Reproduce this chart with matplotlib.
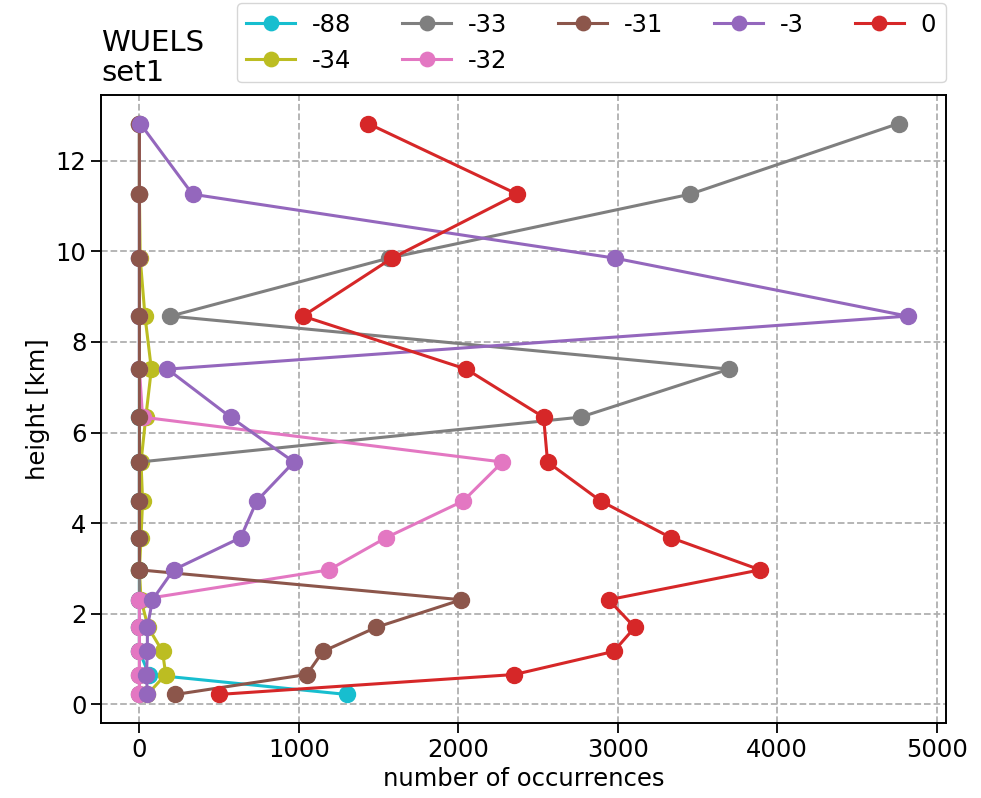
import matplotlib
matplotlib.use("Agg")
import matplotlib.pyplot as plt

# model level heights [km]
heights = [0.22, 0.66, 1.17, 1.70, 2.31, 2.97, 3.68, 4.49, 5.35, 6.34,
           7.40, 8.57, 9.85, 11.26, 12.82]

# occurrences per level for each class
labels = ["-88", "-34", "-33", "-32", "-31", "-3", "0"]
occ_m88 = [1300, 60, 0, 0, 0, 0, 0, 0, 0, 0, 0, 0, 0, 0, 0]
occ_m34 = [50, 165, 145, 55, 10, 0, 10, 20, 10, 40, 75, 35, 5, 0, 0]
occ_m33 = [0, 0, 0, 0, 0, 0, 0, 0, 0, 2767, 3698, 195, 1565, 3453, 4761]
occ_m32 = [0, 0, 0, 0, 0, 1189, 1547, 2031, 2277, 20, 0, 0, 0, 0, 0]
occ_m31 = [226, 1050, 1151, 1484, 2019, 0, 0, 0, 0, 0, 0, 0, 0, 0, 0]
occ_m3 = [50, 44, 50, 50, 82, 214, 635, 736, 969, 572, 176, 4818, 2981, 333, 5]
occ_0 = [497, 2352, 2975, 3107, 2943, 3893, 3333, 2893, 2560, 2535, 2050,
         1025, 1585, 2371, 1434]

series = [occ_m88, occ_m34, occ_m33, occ_m32, occ_m31, occ_m3, occ_0]
colors = ["tab:cyan", "tab:olive", "tab:gray", "tab:pink", "tab:brown",
          "tab:purple", "tab:red"]

plt.rcParams["font.size"] = 17.5

fig = plt.figure(figsize=(9.81, 7.98), dpi=100)
ax = fig.add_axes([101 / 981, 75 / 798, 845 / 981, 628 / 798])

for lab, vals, col in zip(labels, series, colors):
    ax.plot(vals, heights, "-o", color=col, label=lab, lw=2.2, ms=11.5)

ax.grid(True, ls="--", color="#b0b0b0", lw=1.3)
ax.set_xlabel("number of occurrences")
ax.set_ylabel("height [km]")
ax.set_title("WUELS\nset1", loc="left", pad=10, linespacing=1.1)
ax.set_xticks([0, 1000, 2000, 3000, 4000, 5000])
ax.tick_params(length=7, width=1.3)
for spine in ax.spines.values():
    spine.set_linewidth(1.4)

ax.legend(ncol=5, loc="lower right", bbox_to_anchor=(1.0, 1.02),
          borderaxespad=0, columnspacing=2.1, handlelength=2.0,
          handletextpad=0.7, markerscale=0.9, edgecolor="#cccccc")

fig.savefig("out.png", dpi=100)
